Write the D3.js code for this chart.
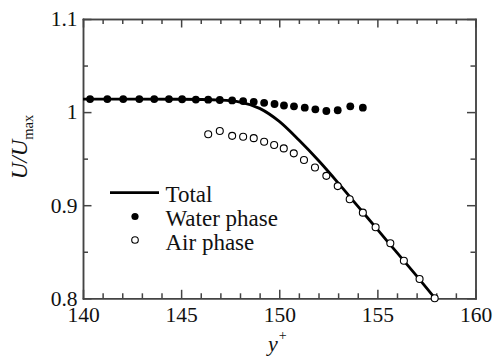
<!DOCTYPE html>
<html>
<head>
<meta charset="utf-8">
<script src="https://cdn.jsdelivr.net/npm/d3@7.9.0/dist/d3.min.js"></script>
<style>
  body { margin: 0; background: #fff; }
  svg { display: block; font-family: "Liberation Serif", "Times New Roman", serif; }
  .axis path, .axis line { stroke: #444; stroke-width: 1.5; }
  .axis text { font-size: 21.5px; fill: #111; font-family: "Liberation Serif", serif; }
</style>
</head>
<body>
<svg id="chart" width="495" height="357"></svg>
<script>
// --- data ---
const xTicks = [140, 145, 150, 155, 160];
const yTicks = [0.8, 0.9, 1.0, 1.1];
const yTickLabels = ['0.8', '0.9', '1', '1.1'];

const totalX = [140, 145, 147, 148, 149, 150, 151, 152, 153, 154, 155, 156, 157, 157.94];
const totalY = [1.014, 1.0138, 1.0128, 1.0108, 1.004, 0.990, 0.970, 0.948, 0.924, 0.899, 0.874, 0.849, 0.824, 0.800];

const waterX = [140.36, 141.24, 142.05, 142.87, 143.63, 144.38, 145.05, 145.75, 146.38, 146.97,
  147.60, 148.16, 148.70, 149.23, 149.76, 150.24, 150.75, 151.30, 151.84, 152.40, 152.98, 153.62, 154.26];
const waterY = [1.014, 1.014, 1.014, 1.014, 1.014, 1.014, 1.0138, 1.0135, 1.0133, 1.013,
  1.0125, 1.0118, 1.0110, 1.0100, 1.0087, 1.0071, 1.0062, 1.0047, 1.0030, 1.0012, 1.0020, 1.0062, 1.0048];

const airX = [146.38, 146.97, 147.60, 148.16, 148.70, 149.23, 149.74, 150.23, 150.74, 151.26,
  151.82, 152.40, 152.98, 153.59, 154.26, 154.91, 155.66, 156.35, 157.15, 157.92];
const airY = [0.9762, 0.9797, 0.9745, 0.9736, 0.9720, 0.9682, 0.9647, 0.9610, 0.9557, 0.9486,
  0.9405, 0.9315, 0.9205, 0.9064, 0.8920, 0.8763, 0.8591, 0.8404, 0.8208, 0.8000];

const legendLabels = ['Total', 'Water phase', 'Air phase'];

// --- layout ---
const plotLeft = 83, plotRight = 475.5, plotTop = 19, plotBottom = 298.3;
const svg = d3.select('#chart');

const x = d3.scaleLinear().domain([140, 160]).range([plotLeft, plotRight]);
const y = d3.scaleLinear().domain([0.8, 1.1]).range([plotBottom, plotTop]);

const xMinor = d3.range(140, 160.01, 1).filter(v => v % 5 !== 0);
const yMinor = [0.85, 0.95, 1.05];

// minor ticks (no labels)
svg.append('g').attr('class', 'axis').attr('transform', `translate(0,${plotBottom})`)
  .call(d3.axisBottom(x).tickValues(xMinor).tickSize(-5).tickSizeOuter(0).tickFormat(''));
svg.append('g').attr('class', 'axis').attr('transform', `translate(0,${plotTop})`)
  .call(d3.axisTop(x).tickValues(xMinor).tickSize(-5).tickSizeOuter(0).tickFormat(''));
svg.append('g').attr('class', 'axis').attr('transform', `translate(${plotLeft},0)`)
  .call(d3.axisLeft(y).tickValues(yMinor).tickSize(-5).tickSizeOuter(0).tickFormat(''));
svg.append('g').attr('class', 'axis').attr('transform', `translate(${plotRight},0)`)
  .call(d3.axisRight(y).tickValues(yMinor).tickSize(-5).tickSizeOuter(0).tickFormat(''));

// major ticks
svg.append('g').attr('class', 'axis').attr('transform', `translate(0,${plotBottom})`)
  .call(d3.axisBottom(x).tickValues(xTicks).tickSize(-8.5).tickSizeOuter(0).tickPadding(8).tickFormat(d3.format('d')));
svg.append('g').attr('class', 'axis').attr('transform', `translate(0,${plotTop})`)
  .call(d3.axisTop(x).tickValues(xTicks).tickSize(-8.5).tickSizeOuter(0).tickFormat(''));
svg.append('g').attr('class', 'axis').attr('transform', `translate(${plotLeft},0)`)
  .call(d3.axisLeft(y).tickValues(yTicks).tickSize(-8.5).tickSizeOuter(0).tickPadding(5.5)
    .tickFormat((d, i) => yTickLabels[i]));
svg.append('g').attr('class', 'axis').attr('transform', `translate(${plotRight},0)`)
  .call(d3.axisRight(y).tickValues(yTicks).tickSize(-8.5).tickSizeOuter(0).tickFormat(''));

svg.selectAll('.axis .domain').attr('stroke-linecap', 'square');

// total line
const totalData = totalX.map((v, i) => [v, totalY[i]]);
svg.append('path')
  .datum(totalData)
  .attr('fill', 'none')
  .attr('stroke', '#000')
  .attr('stroke-width', 2.8)
  .attr('d', d3.line().x(d => x(d[0])).y(d => y(d[1])).curve(d3.curveMonotoneX));

// water phase (filled)
svg.append('g').selectAll('circle')
  .data(waterX.map((v, i) => [v, waterY[i]]))
  .join('circle')
  .attr('cx', d => x(d[0]))
  .attr('cy', d => y(d[1]))
  .attr('r', 3.9)
  .attr('fill', '#000');

// air phase (open)
svg.append('g').selectAll('circle')
  .data(airX.map((v, i) => [v, airY[i]]))
  .join('circle')
  .attr('cx', d => x(d[0]))
  .attr('cy', d => y(d[1]))
  .attr('r', 3.5)
  .attr('fill', '#fff')
  .attr('stroke', '#000')
  .attr('stroke-width', 1.1);

// legend
const lg = svg.append('g');
lg.append('line').attr('x1', 110).attr('x2', 159).attr('y1', 192.7).attr('y2', 192.7)
  .attr('stroke', '#000').attr('stroke-width', 2.8);
lg.append('circle').attr('cx', 135).attr('cy', 216.5).attr('r', 3.6).attr('fill', '#000');
lg.append('circle').attr('cx', 135).attr('cy', 240).attr('r', 3.3)
  .attr('fill', '#fff').attr('stroke', '#000').attr('stroke-width', 1.1);
lg.selectAll('text')
  .data(legendLabels)
  .join('text')
  .attr('x', 165.5)
  .attr('y', (d, i) => 201.5 + i * 24)
  .attr('font-size', 23)
  .attr('fill', '#111')
  .text(d => d);

// axis titles
const xt = svg.append('text').attr('x', 268).attr('y', 351).attr('font-size', 22).attr('fill', '#111');
xt.append('tspan').attr('font-style', 'italic').text('y');
xt.append('tspan').attr('font-size', 14).attr('dy', -11).attr('dx', 1).text('+');

const yt = svg.append('text')
  .attr('transform', 'translate(27,147) rotate(-90)')
  .attr('text-anchor', 'middle')
  .attr('font-size', 23)
  .attr('fill', '#111');
yt.append('tspan').attr('font-style', 'italic').text('U/U');
yt.append('tspan').attr('font-size', 14.5).attr('dy', 5.5).text('max');
</script>
</body>
</html>
